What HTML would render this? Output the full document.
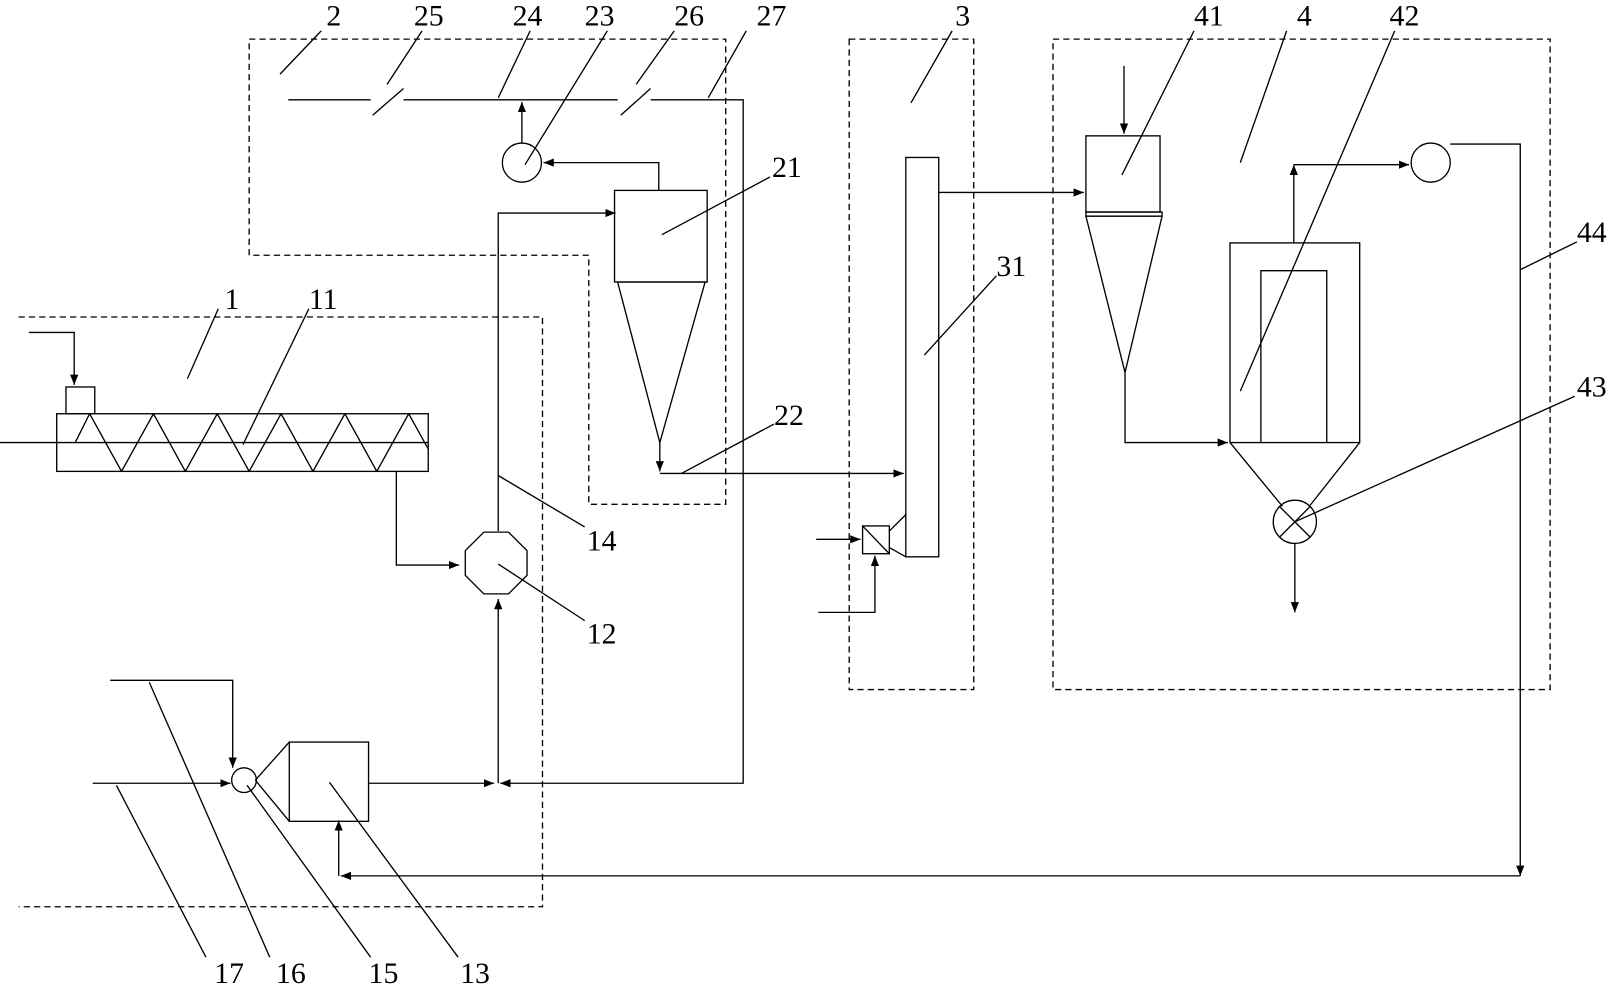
<!DOCTYPE html>
<html><head><meta charset="utf-8"><style>
html,body{margin:0;padding:0;background:#fff;}
svg{display:block}
text{font-family:"Liberation Serif","Noto Serif CJK SC",serif;font-size:29px;fill:#000}
</style></head><body>
<svg width="1614" height="986" viewBox="0 0 1568 958" xmlns="http://www.w3.org/2000/svg">
<defs>
<marker id="a" markerWidth="10" markerHeight="8" refX="10" refY="4" orient="auto" markerUnits="userSpaceOnUse"><path d="M0,0 L10,4 L0,8 z" fill="#000"/></marker>
<clipPath id="c"><rect x="55" y="402" width="361" height="56"/></clipPath>
</defs>
<g fill="none" stroke="#000" stroke-width="1.3">
<!-- dashed boxes -->
<g stroke-dasharray="6,4">
<path d="M242,38 H705 V490 H572 V248 H242 Z"/>
<path d="M18,308 H527 V881 H18"/>
<rect x="825" y="38" width="121" height="632"/>
<rect x="1023" y="38" width="483" height="632"/>
</g>
<!-- top pipe -->
<path d="M280,97 H360 M392,97 H600 M632,97 H722 V761 H486" marker-end="url(#a)"/>
<path d="M362,112 L392,86 M603,112 L632,86"/>
<circle cx="507" cy="158" r="19"/>
<path d="M507,139 V99" marker-end="url(#a)"/>
<path d="M640,185 V158 H528" marker-end="url(#a)"/>
<!-- cyclone 21 -->
<rect x="597" y="185" width="90" height="89"/>
<path d="M600,274 H685 L641,430 Z"/>
<path d="M641,430 V458" marker-end="url(#a)"/>
<path d="M641,460 H878" marker-end="url(#a)"/>
<path d="M484,516 V207 H598" marker-end="url(#a)"/>
<!-- octagon 12 -->
<polygon points="470,517 494,517 512,535 512,559 494,577 470,577 452,559 452,535"/>
<!-- screw -->
<rect x="55" y="402" width="361" height="56"/>
<path d="M0,430 H416"/>
<path clip-path="url(#c)" d="M73,430 L87,402 L118,458 L149,402 L180,458 L211,402 L242,458 L273,402 L304,458 L335,402 L366,458 L397,402 L428,458"/>
<rect x="64" y="376" width="28" height="26"/>
<path d="M28,323 H72 V374" marker-end="url(#a)"/>
<path d="M385,458 V549 H446" marker-end="url(#a)"/>
<!-- 13 / 15 -->
<rect x="281" y="721" width="77" height="77"/>
<path d="M358,761 H480" marker-end="url(#a)"/>
<path d="M484,761 V582" marker-end="url(#a)"/>
<circle cx="237" cy="758" r="12"/>
<path d="M248,758 L281,721 M248,758 L281,798"/>
<path d="M107,661 H226 V746" marker-end="url(#a)"/>
<path d="M90,761 H224" marker-end="url(#a)"/>
<!-- return line -->
<path d="M1409,140 H1477 V851" marker-end="url(#a)"/>
<path d="M1477,851 H331" marker-end="url(#a)"/>
<path d="M329,851 V797" marker-end="url(#a)"/>
<!-- column 31 -->
<rect x="880" y="153" width="32" height="388"/>
<path d="M912,187 H1053" marker-end="url(#a)"/>
<rect x="838" y="511" width="26" height="27"/>
<path d="M838,511 L864,538 M864,516 L880,500 M864,532 L880,541"/>
<path d="M793,524 H836" marker-end="url(#a)"/>
<path d="M795,595 H850 V540" marker-end="url(#a)"/>
<!-- 41 -->
<rect x="1055" y="132" width="72" height="74"/>
<rect x="1055" y="206" width="74" height="4"/>
<path d="M1055,210 H1129 L1093,362 Z"/>
<path d="M1092,64 V130" marker-end="url(#a)"/>
<path d="M1093,362 V430 H1193" marker-end="url(#a)"/>
<!-- 42 -->
<rect x="1195" y="236" width="126" height="194"/>
<path d="M1225,430 V263 H1289 V430"/>
<path d="M1195,430 L1246,492 M1321,430 L1272,492"/>
<circle cx="1258" cy="507" r="21"/>
<path d="M1243,492 L1273,522 M1273,492 L1243,522"/>
<path d="M1258,528 V595" marker-end="url(#a)"/>
<path d="M1257,236 V160" marker-end="url(#a)"/>
<path d="M1257,160 H1369" marker-end="url(#a)"/>
<circle cx="1390" cy="158" r="19"/>
<!-- leaders -->
<path d="M272,72 L312,30 M376,82 L410,30 M484,95 L515,30 M510,160 L590,30 M618,82 L655,30 M688,95 L725,30 M885,100 L925,30 M1090,170 L1160,30 M1205,158 L1250,30 M1205,380 L1355,30 M643,228 L748,172 M898,345 L968,268 M1477,262 L1532,235 M1258,507 L1530,385 M662,460 L752,412 M182,368 L212,300 M236,432 L300,300 M484,462 L568,512 M484,548 L568,603 M113,763 L200,930 M145,663 L262,930 M240,763 L360,930 M320,760 L445,930"/>
</g>
<text x="317" y="25">2</text>
<text x="402" y="25">25</text>
<text x="498" y="25">24</text>
<text x="568" y="25">23</text>
<text x="655" y="25">26</text>
<text x="735" y="25">27</text>
<text x="928" y="25">3</text>
<text x="1160" y="25">41</text>
<text x="1260" y="25">4</text>
<text x="1350" y="25">42</text>
<text x="750" y="172">21</text>
<text x="968" y="268">31</text>
<text x="1532" y="235">44</text>
<text x="1532" y="385">43</text>
<text x="752" y="413">22</text>
<text x="218" y="300">1</text>
<text x="300" y="300">11</text>
<text x="570" y="535">14</text>
<text x="570" y="625">12</text>
<text x="208" y="955">17</text>
<text x="268" y="955">16</text>
<text x="358" y="955">15</text>
<text x="447" y="955">13</text>
</svg>
</body></html>
